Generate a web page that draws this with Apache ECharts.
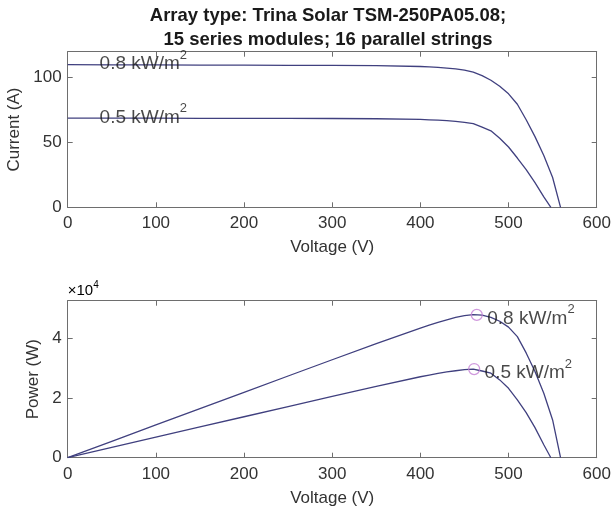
<!DOCTYPE html>
<html><head><meta charset="utf-8">
<script src="https://cdn.jsdelivr.net/npm/echarts@6/dist/echarts.min.js"></script>
<style>html,body{margin:0;padding:0;background:#fff}#c{width:613px;height:511px}</style>
</head><body><div id="c"></div>
<script>
// ---- data ----
const titleLines = ['Array type: Trina Solar TSM-250PA05.08;', '15 series modules; 16 parallel strings'];
const xTicks = [0, 100, 200, 300, 400, 500, 600];
const labelMain = ['0.8 kW/m', '0.5 kW/m'];
const labelSup = '2';

const v08 = [0, 50, 100, 150, 200, 250, 300, 350, 400, 410, 420, 430, 440, 450, 460, 470, 480, 490, 500, 510, 520, 530, 540, 550, 559];
const i08 = [110.0, 109.9, 109.8, 109.7, 109.6, 109.5, 109.4, 109.2, 108.6, 108.3, 107.9, 107.4, 106.8, 105.8, 104.2, 101.6, 98.0, 93.3, 87.5, 79.5, 67.5, 54.5, 40.0, 23.0, 0];
const p08 = [0, 5495, 10980, 16455, 21920, 27375, 32820, 38220, 43440, 44403, 45318, 46182, 46992, 47610, 47932, 47752, 47040, 45717, 43750, 40545, 35100, 28885, 21600, 12650, 0];

const v05 = [0, 50, 100, 150, 200, 250, 300, 350, 400, 410, 420, 430, 440, 450, 460, 470, 480, 490, 500, 510, 520, 530, 540, 548];
const i05 = [68.8, 68.75, 68.7, 68.65, 68.6, 68.55, 68.5, 68.3, 67.8, 67.5, 67.2, 66.8, 66.2, 65.5, 64.5, 61.8, 59.0, 53.2, 46.5, 38.0, 29.0, 19.0, 8.0, 0];
const p05 = [0, 3437.5, 6870, 10297.5, 13720, 17137.5, 20550, 23905, 27120, 27675, 28224, 28724, 29128, 29475, 29670, 29046, 28320, 26068, 23250, 19380, 15080, 10070, 4320, 0];

const mpp08 = [464, 47850];
const mpp05 = [461, 29700];
const ivLabelPos08 = [37, 110];
const ivLabelPos05 = [37, 68.8];

// ---- chart ----
const FONT = 'Liberation Sans, Arial, sans-serif';
const lineColor = '#40407f';
const axisColor = '#6e6e6e';
const textColor = '#333333';
const zip = (a, b) => a.map((x, k) => [x, b[k]]);

const gridA = { left: 67.7, right: 16.3, top: 51.7, height: 155.6 };
const gridB = { left: 67.7, right: 16.3, top: 300.7, height: 157 };

function xAx(gi, main) {
  return {
    type: 'value', gridIndex: gi, min: 0, max: 600, interval: 100,
    position: main ? 'bottom' : 'top',
    name: main ? 'Voltage (V)' : '', nameLocation: 'middle', nameGap: 32,
    nameTextStyle: { fontFamily: FONT, fontSize: 17, color: textColor },
    axisLine: { show: true, onZero: false, lineStyle: { color: axisColor, width: 1 } },
    axisTick: { show: true, inside: true, length: 5, lineStyle: { color: axisColor } },
    axisLabel: { show: main, margin: 8, fontFamily: FONT, fontSize: 17, color: textColor },
    splitLine: { show: false }
  };
}
function yAx(gi, main, opts) {
  return Object.assign({
    type: 'value', gridIndex: gi, min: 0,
    position: main ? 'left' : 'right',
    nameLocation: 'middle',
    nameTextStyle: { fontFamily: FONT, fontSize: 17, color: textColor },
    axisLine: { show: true, onZero: false, lineStyle: { color: axisColor, width: 1 } },
    axisTick: { show: true, inside: true, length: 5, lineStyle: { color: axisColor } },
    axisLabel: { show: main, margin: 6, fontFamily: FONT, fontSize: 17, color: textColor, showMaxLabel: false },
    splitLine: { show: false }
  }, opts);
}

const lineBase = {
  type: 'line', showSymbol: false, symbol: 'none', smooth: false,
  lineStyle: { color: lineColor, width: 1.3 }, itemStyle: { color: lineColor }, silent: true, z: 3
};
const rich = {
  a: { fontFamily: FONT, fontSize: 19, lineHeight: 20, color: '#1a1a1a', verticalAlign: 'bottom' },
  s: { fontFamily: FONT, fontSize: 13, lineHeight: 13, color: '#1a1a1a', verticalAlign: 'top' },
  h: { fontSize: 1, lineHeight: 25, verticalAlign: 'bottom' }
};
const fmt = k => '{h| }{a|' + labelMain[k] + '}{s|' + labelSup + '}';

const option = {
  animation: false,
  backgroundColor: '#ffffff',
  grid: [
    Object.assign({ show: false, containLabel: false, outerBoundsMode: 'none' }, gridA),
    Object.assign({ show: false, containLabel: false, outerBoundsMode: 'none' }, gridB)
  ],
  xAxis: [xAx(0, true), xAx(0, false), xAx(1, true), xAx(1, false)],
  yAxis: [
    yAx(0, true, { max: 120, interval: 50, name: 'Current (A)', nameGap: 38 }),
    yAx(0, false, { max: 120, interval: 50 }),
    yAx(1, true, { max: 52600, interval: 20000, name: 'Power (W)', nameGap: 20,
      axisLabel: { show: true, margin: 6, fontFamily: FONT, fontSize: 17, color: textColor, showMaxLabel: false,
        formatter: v => String(v / 10000) } }),
    yAx(1, false, { max: 52600, interval: 20000 })
  ],
  series: [
    Object.assign({}, lineBase, { name: '0.8', xAxisIndex: 0, yAxisIndex: 0, data: zip(v08, i08) }),
    Object.assign({}, lineBase, { name: '0.5', xAxisIndex: 0, yAxisIndex: 0, data: zip(v05, i05) }),
    Object.assign({}, lineBase, { name: '0.8', xAxisIndex: 2, yAxisIndex: 2, data: zip(v08, p08) }),
    Object.assign({}, lineBase, { name: '0.5', xAxisIndex: 2, yAxisIndex: 2, data: zip(v05, p05) }),
    // IV curve labels
    {
      type: 'scatter', xAxisIndex: 0, yAxisIndex: 0, symbolSize: 0, silent: true, z: 5,
      data: [
        { value: ivLabelPos08, label: { formatter: fmt(0) } },
        { value: ivLabelPos05, label: { formatter: fmt(1) } }
      ],
      label: { show: true, position: 'right', distance: 0, offset: [-1, -3.5], rich: rich }
    },
    // maximum power points
    {
      type: 'scatter', xAxisIndex: 2, yAxisIndex: 2, symbol: 'circle', symbolSize: 11, silent: true, z: 6,
      itemStyle: { color: 'rgba(0,0,0,0)', borderColor: '#c47fd4', borderWidth: 1.3 },
      data: [
        { value: mpp08, label: { formatter: fmt(0) } },
        { value: mpp05, label: { formatter: fmt(1) } }
      ],
      label: { show: true, position: 'right', distance: 4, offset: [0, 1], rich: rich }
    }
  ]
};

const chart = echarts.init(document.getElementById('c'), null, { renderer: 'canvas' });
chart.setOption(option);

// title and the "×10⁴" exponent label at the top-left of the power axes
const px = chart.convertToPixel({ xAxisIndex: 2, yAxisIndex: 2 }, [0, 52600]);
chart.setOption({
  graphic: [
    { type: 'text', x: 328, y: 15.5,
      style: { text: titleLines[0], font: 'bold 18.5px ' + FONT, fill: '#1a1a1a', align: 'center', verticalAlign: 'middle' } },
    { type: 'text', x: 328, y: 39.7,
      style: { text: titleLines[1], font: 'bold 18.5px ' + FONT, fill: '#1a1a1a', align: 'center', verticalAlign: 'middle' } },
    { type: 'text', x: px[0], y: px[1] - 2,
      style: { text: '{a|×10}{s|4}', align: 'left', verticalAlign: 'bottom',
        rich: { a: { fontFamily: FONT, fontSize: 15, color: '#555', lineHeight: 18, verticalAlign: 'bottom' },
                s: { fontFamily: FONT, fontSize: 10, color: '#555', lineHeight: 10, verticalAlign: 'top' } } } }
  ]
});
</script>
</body></html>
